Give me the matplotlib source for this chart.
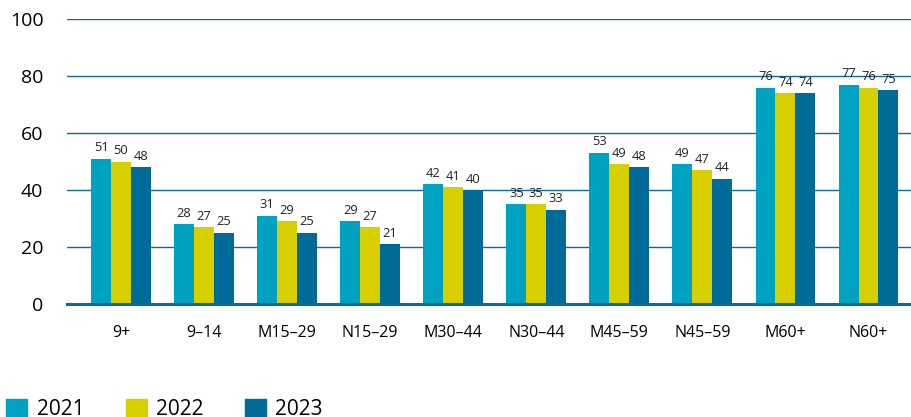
import numpy as np
import matplotlib.pyplot as plt
from matplotlib.patches import Patch

# dados
groups = ["9+", "9–14", "M15–29", "N15–29", "M30–44", "N30–44", "M45–59", "N45–59", "M60+", "N60+"]
years = ["2021", "2022", "2023"]
v2021 = [51, 28, 31, 29, 42, 35, 53, 49, 76, 77]
v2022 = [50, 27, 29, 27, 41, 35, 49, 47, 74, 76]
v2023 = [48, 25, 25, 21, 40, 33, 48, 44, 74, 75]
colors = ["#00a1c1", "#d8cf00", "#006b98"]

plt.rcParams["font.family"] = ["Open Sans", "DejaVu Sans"]

fig = plt.figure(figsize=(9.12, 4.17), dpi=100)
ax = fig.add_axes([0.0735, 0.271, 0.9265, 0.683])

x = np.arange(len(groups))
w = 0.24
for i, (vals, c) in enumerate(zip([v2021, v2022, v2023], colors)):
    pos = x + (i - 1) * w
    ax.bar(pos, vals, width=w, color=c, zorder=3)
    for px, v in zip(pos, vals):
        ax.text(px, v + 1.6, str(v), ha="center", va="bottom", fontsize=9.3, color="#222222", zorder=4)

ax.set_ylim(0, 100)
ax.set_xlim(-0.65, 9.524)
ax.set_yticks(range(0, 101, 20))
ax.set_xticks(x)
ax.set_xticklabels(groups, fontsize=11.5)
ax.tick_params(axis="y", labelsize=14, length=0, pad=17)
ax.tick_params(axis="x", length=0, pad=15)
ax.grid(axis="y", color="#0b6a99", linewidth=1.0, zorder=0)
for s in ["top", "right", "left"]:
    ax.spines[s].set_visible(False)
ax.spines["bottom"].set_color("#0b6a99")
ax.spines["bottom"].set_linewidth(2.2)
ax.spines["bottom"].set_zorder(5)

handles = [Patch(color=c) for c in colors]
fig.legend(handles, years, loc="lower left", bbox_to_anchor=(-0.009, -0.043), ncol=3,
           frameon=False, fontsize=15, handlelength=1.0, handleheight=1.0,
           handletextpad=0.45, columnspacing=2.0, borderaxespad=0.3)

fig.savefig("out.png", dpi=100)
